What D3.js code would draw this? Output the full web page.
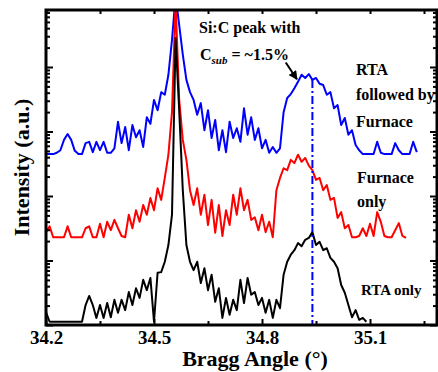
<!DOCTYPE html>
<html>
<head>
<meta charset="utf-8">
<script src="https://cdn.jsdelivr.net/npm/d3@7"></script>
<style>
    body { margin: 0; background: #fff; }
    svg { display: block; }
    text { font-family: "Liberation Serif", "Times New Roman", serif; font-weight: bold; fill: #000; }
</style>
</head>
<body>
<div id="chart"></div>
<script>
// scan grid (degrees)
const angleStart = 34.2;
const angleStep = 0.01;

// log10 intensity (a.u.), curves stacked by offset as in the figure
const rtaFurnace = [
    2.65, 2.65, 2.65, 2.67, 2.71, 2.87, 2.96, 2.87, 2.70, 2.65,
    2.65, 2.82, 2.84, 2.68, 2.84, 2.71, 2.84, 2.67, 2.67, 2.74,
    3.15, 2.82, 3.07, 2.71, 3.10, 2.91, 3.02, 2.76, 3.22, 3.12,
    3.49, 3.33, 3.61, 3.57, 3.88, 4.42, 5.10, 4.65, 4.19, 3.80,
    3.61, 3.49, 3.26, 3.44, 3.02, 3.33, 2.90, 3.18, 2.71, 3.02,
    2.68, 3.15, 2.90, 3.05, 2.84, 3.36, 2.95, 3.22, 2.87, 3.05,
    2.74, 2.87, 2.67, 2.76, 2.67, 2.74, 3.30, 3.52, 3.58, 3.67,
    3.77, 3.88, 3.83, 3.89, 3.80, 3.83, 3.74, 3.72, 3.57, 3.61,
    3.36, 3.41, 3.10, 3.21, 2.95, 3.02, 2.79, 2.71, 2.65, 2.65,
    2.65, 2.65, 2.84, 2.67, 2.65, 2.65, 2.65, 2.82, 2.71, 2.65,
    2.65, 2.65, 2.84, 2.68
];
const furnaceOnly = [
    1.44, 1.53, 1.36, 1.36, 1.36, 1.36, 1.53, 1.36, 1.36, 1.36,
    1.36, 1.50, 1.53, 1.36, 1.36, 1.57, 1.36, 1.60, 1.47, 1.63,
    1.50, 1.38, 1.36, 1.71, 1.50, 1.78, 1.60, 1.86, 1.71, 1.97,
    1.78, 2.12, 1.94, 2.28, 2.64, 3.30, 5.00, 3.49, 2.87, 2.56,
    2.09, 1.86, 2.12, 1.71, 2.02, 1.55, 1.94, 1.43, 1.86, 1.38,
    1.78, 1.55, 2.02, 1.71, 2.12, 1.78, 1.94, 1.63, 1.67, 1.47,
    1.71, 1.44, 1.60, 1.36, 2.09, 2.28, 2.43, 2.40, 2.56, 2.51,
    2.64, 2.53, 2.59, 2.47, 2.40, 2.25, 2.28, 2.09, 2.17, 1.94,
    1.97, 1.66, 1.75, 1.50, 1.55, 1.36, 1.36, 1.38, 1.50, 1.38,
    1.57, 1.38, 1.75, 1.60, 1.38, 1.36, 1.36, 1.47, 1.58, 1.38,
    1.35
];
const rtaOnly = [
    0.20, 0.05, 0.05, 0.05, 0.05, 0.05, 0.05, 0.05, 0.05, 0.05,
    0.05, 0.31, 0.45, 0.31, 0.11, 0.31, 0.11, 0.34, 0.12, 0.39,
    0.19, 0.39, 0.23, 0.51, 0.31, 0.57, 0.42, 0.70, 0.54, 0.73,
    0.05, 0.81, 0.82, 0.98, 1.24, 1.71, 4.45, 3.33, 2.09, 1.24,
    0.98, 0.85, 0.98, 0.65, 0.88, 0.54, 0.78, 0.36, 0.57, 0.11,
    0.42, 0.16, 0.39, 0.23, 0.70, 0.34, 0.73, 0.47, 0.51, 0.31,
    0.42, 0.19, 0.39, 0.11, 0.39, 0.26, 0.78, 0.98, 1.09, 1.16,
    1.27, 1.22, 1.32, 1.35, 1.44, 1.24, 1.29, 1.16, 1.19, 1.04,
    0.98, 0.88, 0.62, 0.50, 0.31, 0.12, 0.23, 0.08, 0.11, 0.05
];

const xMajorTicks = [34.2, 34.5, 34.8, 35.1];
const xMinorTicks = [34.35, 34.65, 34.95, 35.25];
const decades = [0, 1, 2, 3, 4];
const peakAngle = 34.94;   // Si:C peak marker
const peakLevel = 3.80;

const width = 438, height = 372;
const margin = { top: 10, right: 1, bottom: 47, left: 46 };

const svg = d3.select("#chart")
    .append("svg")
    .attr("width", width)
    .attr("height", height);

const x = d3.scaleLinear()
    .domain([34.2, 34.2 + (width - margin.left - margin.right) / 360])
    .range([margin.left, width - margin.right]);

const y = d3.scaleLinear()
    .domain([0, (height - margin.bottom - margin.top) / 64.5])
    .range([height - margin.bottom, margin.top]);

const series = [
    { id: "rtaFurnace", values: rtaFurnace, color: "#0000ff" },
    { id: "furnaceOnly", values: furnaceOnly, color: "#ff0000" },
    { id: "rtaOnly", values: rtaOnly, color: "#000000" }
];

svg.append("clipPath")
    .attr("id", "plot-clip")
    .append("rect")
    .attr("x", margin.left)
    .attr("y", margin.top)
    .attr("width", width - margin.left - margin.right)
    .attr("height", height - margin.top - margin.bottom);

const line = d3.line()
    .x((d, i) => x(angleStart + i * angleStep))
    .y(d => y(d));

const plot = svg.append("g").attr("clip-path", "url(#plot-clip)");

plot.selectAll(".curve")
    .data(series)
    .join("path")
    .attr("class", d => `curve curve-${d.id}`)
    .attr("fill", "none")
    .attr("stroke", d => d.color)
    .attr("stroke-width", 2)
    .attr("stroke-linejoin", "round")
    .attr("d", d => line(d.values));

// dash-dot guide at the Si:C peak
plot.append("line")
    .attr("x1", x(peakAngle)).attr("x2", x(peakAngle))
    .attr("y1", y(peakLevel)).attr("y2", y(0))
    .attr("stroke", "#0000ff")
    .attr("stroke-width", 2)
    .attr("stroke-dasharray", "8,3,2,3");

// y minor/major tick values (log decades)
const yMajor = decades.filter(n => n <= y.domain()[1]);
const yMinor = decades.flatMap(n => d3.range(2, 10).map(k => n + Math.log10(k)))
    .filter(v => v <= y.domain()[1]);

const bottom = height - margin.bottom;
const right = width - margin.right;

const styleTicks = g => {
    g.select(".domain").remove();
    g.selectAll(".tick line").attr("stroke", "#000").attr("stroke-width", 2);
};

svg.append("g")
    .attr("transform", `translate(0,${bottom})`)
    .call(d3.axisBottom(x).tickValues(xMajorTicks).tickSize(-6).tickPadding(6).tickFormat(d3.format(".1f")))
    .call(styleTicks)
    .call(g => g.selectAll("text")
        .style("font-size", "19px")
        .style("font-family", "'Liberation Serif', serif")
        .style("font-weight", "bold"));

svg.append("g")
    .attr("transform", `translate(0,${bottom})`)
    .call(d3.axisBottom(x).tickValues(xMinorTicks).tickSize(-4).tickFormat(""))
    .call(styleTicks);

svg.append("g")
    .attr("transform", `translate(0,${margin.top})`)
    .call(d3.axisTop(x).tickValues(xMajorTicks.concat(xMinorTicks)).tickSize(-4).tickFormat(""))
    .call(styleTicks);

[[d3.axisLeft, margin.left], [d3.axisRight, right]].forEach(([axisFn, pos]) => {
    svg.append("g")
        .attr("transform", `translate(${pos},0)`)
        .call(axisFn(y).tickValues(yMajor).tickSize(-7).tickFormat(""))
        .call(styleTicks);
    svg.append("g")
        .attr("transform", `translate(${pos},0)`)
        .call(axisFn(y).tickValues(yMinor).tickSize(-4).tickFormat(""))
        .call(styleTicks);
});

svg.append("rect")
    .attr("x", margin.left)
    .attr("y", margin.top)
    .attr("width", right - margin.left)
    .attr("height", bottom - margin.top)
    .attr("fill", "none")
    .attr("stroke", "#000")
    .attr("stroke-width", 3);

// axis titles
svg.append("text")
    .attr("x", 255)
    .attr("y", 366)
    .attr("text-anchor", "middle")
    .style("font-size", "22px")
    .text("Bragg Angle (°)");

svg.append("text")
    .attr("transform", `translate(29,${(margin.top + bottom) / 2}) rotate(-90)`)
    .attr("text-anchor", "middle")
    .style("font-size", "22px")
    .text("Intensity (a.u.)");

// annotation
svg.append("defs").append("marker")
    .attr("id", "arrow-head")
    .attr("viewBox", "0 0 10 10")
    .attr("refX", 9).attr("refY", 5)
    .attr("markerWidth", 4.5).attr("markerHeight", 4.5)
    .attr("orient", "auto")
    .append("path")
    .attr("d", "M0,0 L10,5 L0,10 Z")
    .attr("fill", "#000");

svg.append("line")
    .attr("x1", x(34.866)).attr("y1", y(4.07))
    .attr("x2", x(34.897)).attr("y2", y(3.81))
    .attr("stroke", "#000")
    .attr("stroke-width", 2)
    .attr("marker-end", "url(#arrow-head)");

svg.append("text")
    .attr("x", 199).attr("y", 33)
    .style("font-size", "16px")
    .text("Si:C peak with");

const cLabel = svg.append("text")
    .attr("x", 200).attr("y", 60)
    .style("font-size", "16px");
cLabel.append("tspan").text("C");
cLabel.append("tspan")
    .attr("dy", 4)
    .style("font-size", "11px")
    .style("font-style", "italic")
    .text("sub");
cLabel.append("tspan")
    .attr("dy", -4)
    .text(" = ~1.5%");

const labels = [
    { text: "RTA", x: 356, y: 75, size: 16 },
    { text: "followed by", x: 356, y: 100, size: 16 },
    { text: "Furnace", x: 356, y: 127, size: 16 },
    { text: "Furnace", x: 357, y: 183, size: 16 },
    { text: "only", x: 357, y: 207, size: 16 },
    { text: "RTA only", x: 361, y: 295, size: 15 }
];

svg.selectAll(".series-label")
    .data(labels)
    .join("text")
    .attr("class", "series-label")
    .attr("x", d => d.x)
    .attr("y", d => d.y)
    .style("font-size", d => `${d.size}px`)
    .text(d => d.text);
</script>
</body>
</html>
